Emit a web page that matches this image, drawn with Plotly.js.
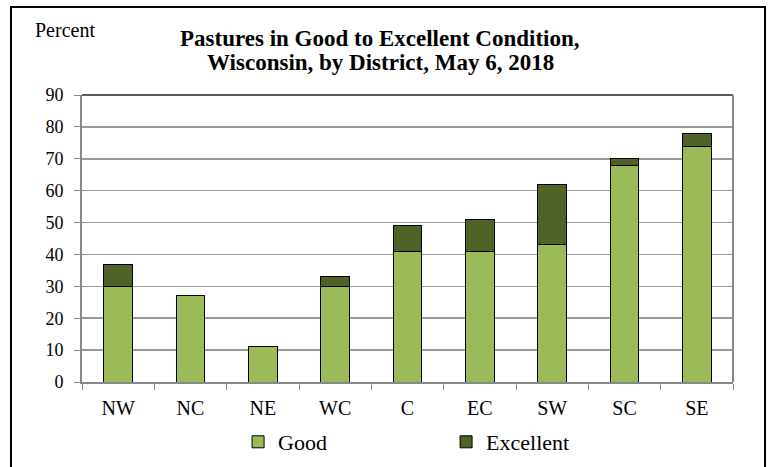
<!DOCTYPE html>
<html>
<head>
<meta charset="utf-8">
<script src="https://cdn.plot.ly/plotly-3.0.1.min.js"></script>
<style>
html,body{margin:0;padding:0;background:#fff;}
#wrap{position:relative;width:773px;height:467px;overflow:hidden;}
#chart{width:773px;height:467px;}
#frame{position:absolute;left:10px;top:6px;width:756px;height:480px;border:2px solid #000;pointer-events:none;box-sizing:border-box;}
</style>
</head>
<body>
<div id="wrap"><div id="chart"></div><div id="frame"></div></div>
<script>
const districts = ["NW","NC","NE","WC","C","EC","SW","SC","SE"];
const good = [30,27,11,30,41,41,43,68,74];
const excellent = [7,0,0,3,8,10,19,2,4];
const yTicks = [0,10,20,30,40,50,60,70,80,90];
const titleLines = ["Pastures in Good to Excellent Condition,", "Wisconsin, by District, May 6, 2018"];

const serif = "Liberation Serif";

const traces = [
  {type:'bar', name:'Good', x:districts, y:good,
   marker:{color:'#9BBB59', line:{color:'#000', width:1}}},
  {type:'bar', name:'Excellent', x:districts, y:excellent,
   marker:{color:'#4F6228', line:{color:'#000', width:1}}}
];

const layout = {
  width:773, height:467,
  barmode:'stack', bargap:0.6,
  margin:{l:82, r:40, t:95, b:85, autoexpand:false},
  paper_bgcolor:'#fff', plot_bgcolor:'#fff',
  font:{family:serif, color:'#000', size:20},
  xaxis:{type:'category', tickson:'boundaries', ticks:'outside', ticklen:6, tickcolor:'#888',
         showline:true, linecolor:'#888', linewidth:2, showgrid:false, ticklabelstandoff:7,
         tickfont:{family:serif, size:20, color:'#000'}, mirror:false},
  yaxis:{range:[0,90], tickvals:yTicks, ticks:'outside', ticklen:6, tickcolor:'#888',
         showline:true, linecolor:'#888', linewidth:2, ticklabelstandoff:7,
         gridcolor:'#999', gridwidth:1.5, zeroline:false,
         tickfont:{family:serif, size:18, color:'#000'}},
  shapes:[
    {type:'line', xref:'paper', yref:'paper', x0:0, x1:1, y0:1, y1:1, line:{color:'#222', width:1.5}},
    {type:'line', xref:'paper', yref:'paper', x0:1, x1:1, y0:0, y1:1, line:{color:'#888', width:2}}
  ],
  annotations:[
    {text:'Percent', xref:'paper', yref:'paper', x:-0.076, y:1.225, xanchor:'left', yanchor:'middle',
     showarrow:false, font:{family:serif, size:20, color:'#000'}},
    {text:'<b>'+titleLines[0]+'</b>', xref:'paper', yref:'paper', x:0.4578, y:1.1986, xanchor:'center', yanchor:'middle',
     showarrow:false, font:{family:serif, size:23, color:'#000'}},
    {text:'<b>'+titleLines[1]+'</b>', xref:'paper', yref:'paper', x:0.4578, y:1.1115, xanchor:'center', yanchor:'middle',
     showarrow:false, font:{family:serif, size:23, color:'#000'}}
  ],
  legend:{orientation:'h', x:0.308, xanchor:'left', xref:'container', y:25/467, yanchor:'middle', yref:'container',
          font:{family:serif, size:22, color:'#000'}, entrywidth:163, entrywidthmode:'pixels',
          itemwidth:30, traceorder:'normal'},
  showlegend:true
};

Plotly.newPlot('chart', traces, layout, {displayModeBar:false, staticPlot:true});
</script>
</body>
</html>
